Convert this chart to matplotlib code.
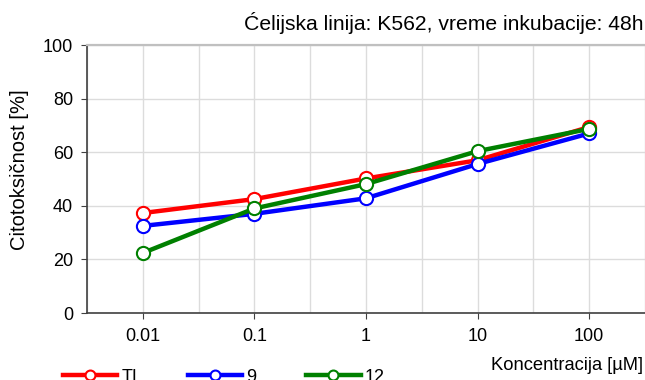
import matplotlib
matplotlib.use("Agg")
import matplotlib.pyplot as plt
import numpy as np

plt.rcParams["font.family"] = ["Liberation Sans", "DejaVu Sans"]

# data
concentrations = ["0.01", "0.1", "1", "10", "100"]
ti = [37.3, 42.5, 50.2, 57.0, 69.4]
c9 = [32.5, 37.0, 42.8, 55.6, 67.0]
c12 = [22.4, 39.0, 48.1, 60.4, 68.7]

series = [("TI", ti, "#ff0000"), ("9", c9, "#0000ff"), ("12", c12, "#008000")]

fig = plt.figure(figsize=(6.45, 3.8), dpi=100)
ax = fig.add_axes([87 / 645, 1 - 313 / 380, 1 - 87 / 645, (313 - 45) / 380])

x = np.arange(len(concentrations))
for name, vals, col in series:
    ax.plot(x, vals, color=col, lw=3.2, marker="o", ms=9.5,
            mfc="white", mec=col, mew=1.5, label=name, zorder=3)

ax.set_xlim(-0.5, len(concentrations) - 0.5)
ax.set_ylim(0, 100)
ax.set_yticks(range(0, 101, 20))
ax.set_xticks(x)
ax.set_xticklabels(concentrations)
ax.set_xticks(np.arange(-0.5, len(concentrations), 1), minor=True)
ax.tick_params(axis="x", which="minor", length=0)
ax.tick_params(axis="both", which="major", labelsize=13, colors="#404040",
               labelcolor="black", length=4, direction="out")
ax.tick_params(axis="x", which="major", pad=7)
ax.tick_params(axis="y", which="major", pad=6)

ax.grid(True, which="both", color="#dcdcdc", lw=1)
ax.set_axisbelow(True)
for s in ["left", "bottom"]:
    ax.spines[s].set_color("#404040")
    ax.spines[s].set_linewidth(1.2)
ax.spines["top"].set_color("#c0c0c0")
ax.spines["top"].set_linewidth(1.6)
ax.spines["right"].set_visible(False)

fig.text(20 / 645, 1 - 170 / 380, "Citotoksičnost [%]", rotation=90,
         ha="center", va="center", fontsize=14.5)
fig.text(643 / 645, 1 - 366 / 380, "Koncentracija [µM]", ha="right",
         va="center", fontsize=13.2)
fig.text(643 / 645, 1 - 23 / 380, "Ćelijska linija: K562, vreme inkubacije: 48h",
         ha="right", va="center", fontsize=15.2)

fig.legend(loc="center left", bbox_to_anchor=(63 / 645, 3 / 380), ncol=3,
           frameon=False, fontsize=13, handlelength=3.0, handletextpad=0.22,
           columnspacing=2.8, borderpad=0, borderaxespad=0, markerscale=0.75)

fig.savefig("out.png", dpi=100)
